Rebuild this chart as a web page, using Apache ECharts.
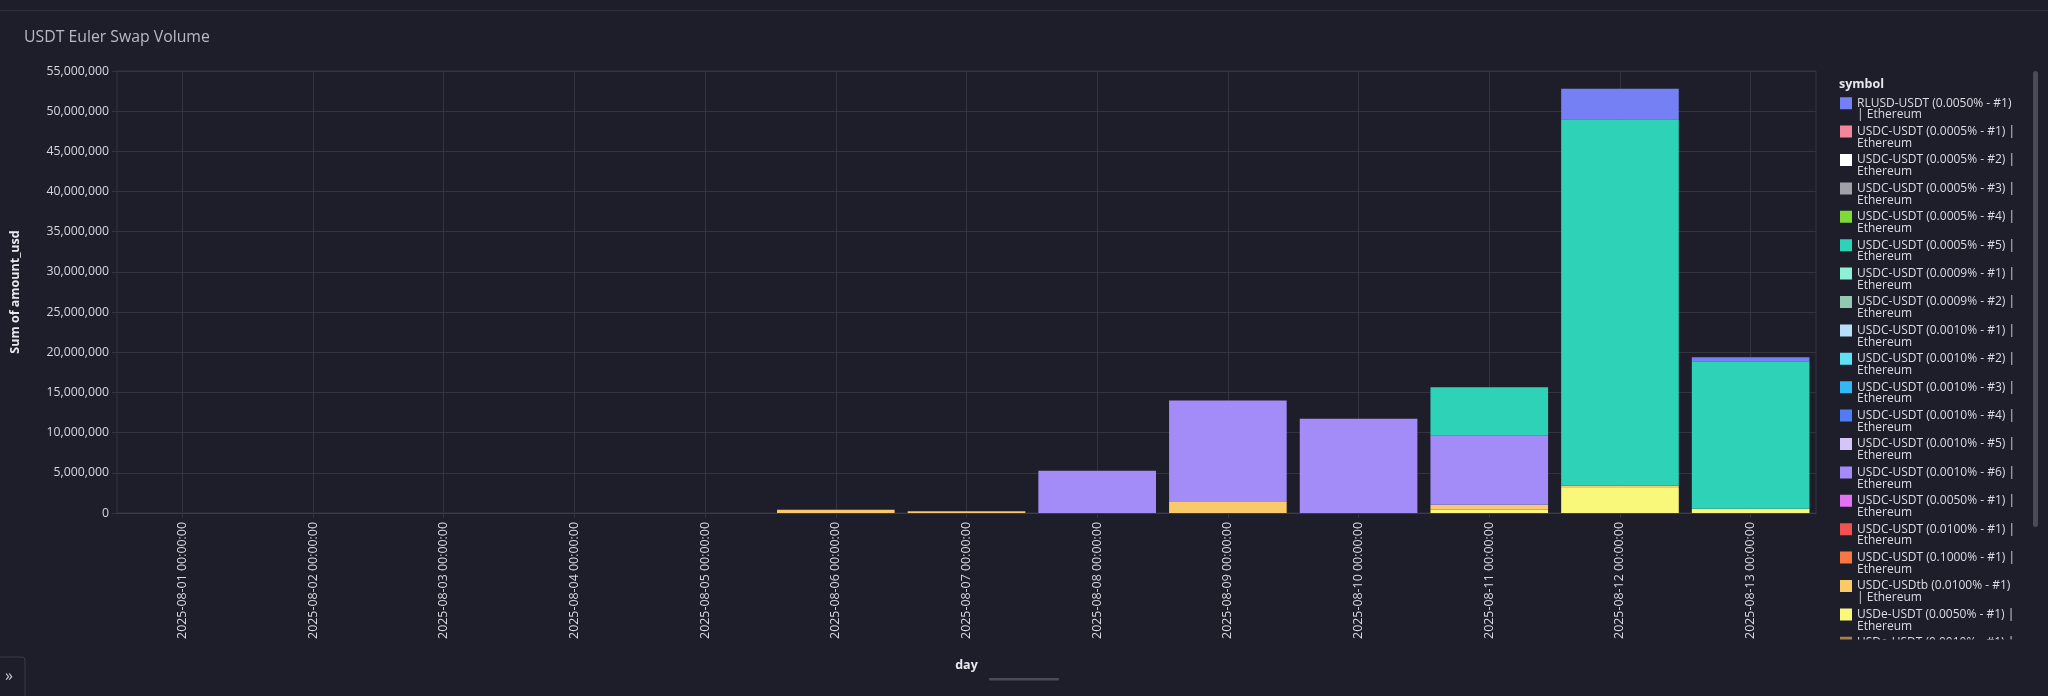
<!DOCTYPE html>
<html>
<head>
<meta charset="utf-8">
<script src="https://cdn.jsdelivr.net/npm/echarts@6/dist/echarts.min.js"></script>
<style>
html,body{margin:0;padding:0;background:#1e1e2b;}
#chart{width:2048px;height:696px;}
</style>
</head>
<body>
<div id="chart"></div>
<script>
var days = ['2025-08-01 00:00:00','2025-08-02 00:00:00','2025-08-03 00:00:00','2025-08-04 00:00:00',
	'2025-08-05 00:00:00','2025-08-06 00:00:00','2025-08-07 00:00:00','2025-08-08 00:00:00',
	'2025-08-09 00:00:00','2025-08-10 00:00:00','2025-08-11 00:00:00','2025-08-12 00:00:00',
	'2025-08-13 00:00:00'];

// legend order (top to bottom)
var symbols = [
	'RLUSD-USDT (0.0050% - #1) | Ethereum',
	'USDC-USDT (0.0005% - #1) | Ethereum',
	'USDC-USDT (0.0005% - #2) | Ethereum',
	'USDC-USDT (0.0005% - #3) | Ethereum',
	'USDC-USDT (0.0005% - #4) | Ethereum',
	'USDC-USDT (0.0005% - #5) | Ethereum',
	'USDC-USDT (0.0009% - #1) | Ethereum',
	'USDC-USDT (0.0009% - #2) | Ethereum',
	'USDC-USDT (0.0010% - #1) | Ethereum',
	'USDC-USDT (0.0010% - #2) | Ethereum',
	'USDC-USDT (0.0010% - #3) | Ethereum',
	'USDC-USDT (0.0010% - #4) | Ethereum',
	'USDC-USDT (0.0010% - #5) | Ethereum',
	'USDC-USDT (0.0010% - #6) | Ethereum',
	'USDC-USDT (0.0050% - #1) | Ethereum',
	'USDC-USDT (0.0100% - #1) | Ethereum',
	'USDC-USDT (0.1000% - #1) | Ethereum',
	'USDC-USDtb (0.0100% - #1) | Ethereum',
	'USDe-USDT (0.0050% - #1) | Ethereum',
	'USDe-USDT (0.0010% - #1) | Ethereum'
];
var colors = ['#7480f4','#f5869a','#ffffff','#a0a0a8','#7fd93a','#2ed3b7','#8ef0d4','#92c9b1',
	'#b7dff7','#5ee0f5','#33b8f5','#4f7df5','#d4c4f8','#a38bf8','#e072f3','#f2524f',
	'#fa7840','#f9c96a','#faf87a','#a97e4a'];

// values per day, only the pools that traded
var rlusd    = [null,null,null,null,null,null,null,null,null,null,null,3800000,500000];
var usdc5    = [null,null,null,null,null,null,null,null,null,null,5970000,45600000,18350000];
var usdc10_6 = [null,null,null,null,null,null,null,5270000,12630000,11740000,8640000,null,null];
var usdtb    = [null,null,null,null,null,410000,220000,null,1370000,null,620000,300000,null];
var usde     = [null,null,null,null,null,null,null,null,null,null,410000,3100000,540000];

var values = {};
values[symbols[0]] = rlusd;
values[symbols[5]] = usdc5;
values[symbols[13]] = usdc10_6;
values[symbols[17]] = usdtb;
values[symbols[18]] = usde;

var font = '"Open Sans", "Noto Sans", sans-serif';
var gridColor = '#33343f';

function wrapName(name){
	// word wrap, first line at most 26 chars; leading blank line keeps line 1 level with the icon
	var words = name.split(' '), line = '', out = [];
	for (var i = 0; i < words.length; i++) {
		var t = line ? line + ' ' + words[i] : words[i];
		if (t.length > 26 && line) { out.push(line); line = words[i]; } else { line = t; }
	}
	out.push(line);
	return '\n' + out.join('\n');
}

var series = [];
for (var i = symbols.length - 1; i >= 0; i--) {
	series.push({
		name: symbols[i],
		type: 'bar',
		stack: 'total',
		barCategoryGap: '10%',
		itemStyle: {color: colors[i]},
		data: values[symbols[i]] || []
	});
}

var myChart = echarts.init(document.getElementById('chart'));
var option = {
	backgroundColor: '#1e1e2b',
	animation: false,
	textStyle: {fontFamily: font},
	title: [{
		text: 'USDT Euler Swap Volume',
		left: 19, top: 24,
		textStyle: {color: '#b8b9c4', fontSize: 15.8, fontWeight: 'normal', fontFamily: font}
	},{
		text: 'symbol',
		left: 1834, top: 73,
		textStyle: {color: '#e8e8ee', fontSize: 12.5, fontWeight: 'bold', fontFamily: font}
	}],
	legend: {
		type: 'scroll',
		orient: 'vertical',
		left: 1835, top: 80.5,
		height: 548,
		itemWidth: 12, itemHeight: 12,
		itemGap: -7.0,
		icon: 'rect',
		data: symbols,
		formatter: wrapName,
		pageIconSize: 0,
		pageFormatter: '',
		pageButtonItemGap: 0,
		pageTextStyle: {fontSize: 1, color: 'transparent'},
		textStyle: {color: '#dcdce4', fontSize: 12, lineHeight: 11.7, fontFamily: font}
	},
	grid: {
		left: 117, right: 232, top: 71, bottom: 183,
		show: true, borderColor: gridColor, borderWidth: 1
	},
	xAxis: {
		type: 'category',
		data: days,
		name: 'day',
		nameLocation: 'middle',
		nameGap: 146,
		nameTextStyle: {color: '#e8e8ee', fontSize: 12.5, fontWeight: 'bold'},
		axisLine: {lineStyle: {color: '#3b3c48'}},
		axisTick: {show: true, alignWithLabel: true, length: 5, lineStyle: {color: gridColor}},
		splitLine: {show: true, alignWithLabel: true, lineStyle: {color: gridColor}},
		axisLabel: {rotate: 90, margin: 9, color: '#d8d8e0', fontSize: 12.4, fontFamily: font}
	},
	yAxis: {
		type: 'value',
		min: 0, max: 55000000, interval: 5000000,
		name: 'Sum of amount_usd',
		nameLocation: 'middle',
		nameRotate: 90,
		nameGap: 95,
		nameTextStyle: {color: '#e8e8ee', fontSize: 12.5, fontWeight: 'bold'},
		axisLine: {show: false},
		axisTick: {show: true, length: 5, lineStyle: {color: gridColor}},
		splitLine: {lineStyle: {color: gridColor}},
		axisLabel: {
			margin: 8, color: '#d8d8e0', fontSize: 12.3, fontFamily: font,
			formatter: function(v){ return v.toLocaleString('en-US'); }
		}
	},
	graphic: [
		{type: 'rect', shape: {x: 0, y: 10, width: 2048, height: 1}, style: {fill: '#2f303c'}, silent: true},
		{type: 'rect', shape: {x: 2033, y: 71, width: 5, height: 456, r: 2.5}, style: {fill: '#4a4b58'}, silent: true},
		{type: 'rect', shape: {x: 989, y: 678, width: 70, height: 2.5, r: 1}, style: {fill: '#4a4b58'}, silent: true},
		{type: 'rect', shape: {x: -2, y: 657, width: 27, height: 50, r: 3}, style: {fill: 'none', stroke: '#3a3b48', lineWidth: 1}, silent: true},
		{type: 'text', left: 5, top: 668, style: {text: '»', fill: '#c8c8d0', fontSize: 16, fontFamily: font}, silent: true}
	],
	series: series
};
myChart.setOption(option);
</script>
</body>
</html>
